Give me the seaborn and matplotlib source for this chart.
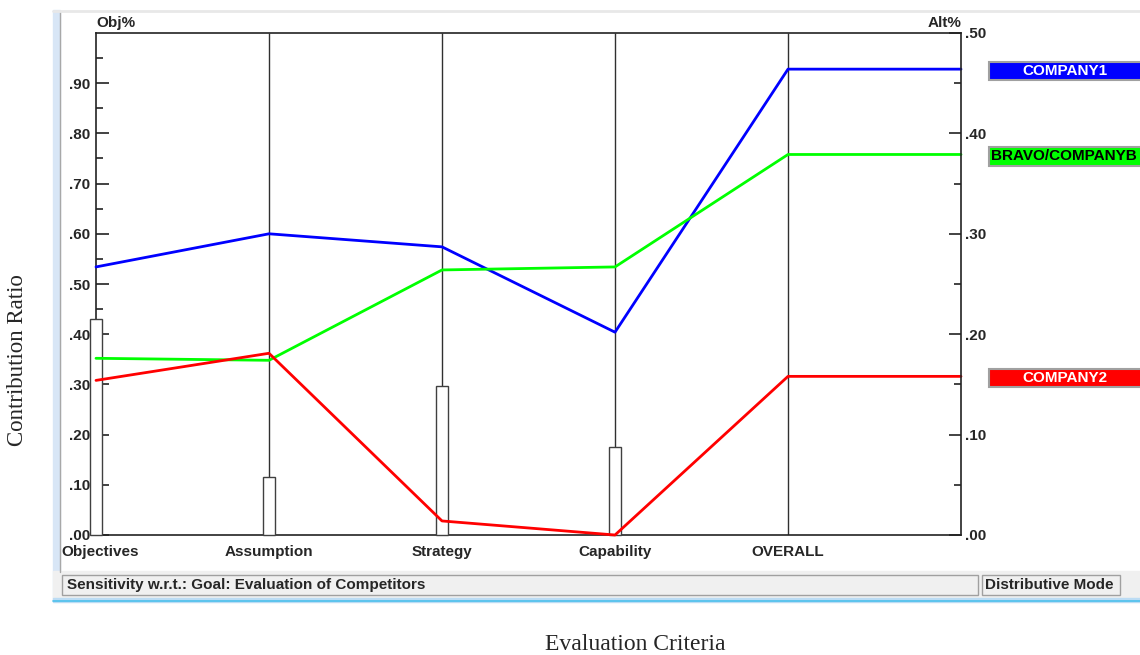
import numpy as np
import pandas as pd
import seaborn as sns
import matplotlib.pyplot as plt
from matplotlib.patches import Rectangle
from matplotlib.lines import Line2D
from matplotlib.transforms import blended_transform_factory, ScaledTranslation

# Data
criteria = ['Objectives', 'Assumption', 'Strategy', 'Capability']
weights = [0.43, 0.116, 0.297, 0.175]          # Obj% (left axis)
companies = ['COMPANY1', 'BRAVO/COMPANYB', 'COMPANY2']
company1 = [0.267, 0.300, 0.287, 0.202, 0.464]  # Alt% at each criterion + OVERALL
companyb = [0.176, 0.174, 0.264, 0.267, 0.379]
company2 = [0.154, 0.181, 0.014, 0.000, 0.158]
colors = ['#0000ff', '#00ff00', '#ff0000']
box_text = ['white', 'black', 'white']

W, H = 1140, 655
FS = 11
def fx(px):
    return px / W
def fy(py):
    return 1 - py / H

sns.set_theme(style="white")
plt.rcParams['font.family'] = ['Liberation Sans', 'DejaVu Sans']

fig = plt.figure(figsize=(W / 100, H / 100), dpi=100)

# window frame bits
fig.patches.append(Rectangle((fx(53), fy(600)), fx(7), fy(10) - fy(600),
                             transform=fig.transFigure, color='#d8e6f6', zorder=0))
fig.lines.append(Line2D([fx(60), fx(60)], [fy(12), fy(572)], transform=fig.transFigure,
                        color='#a8a8a8', lw=1))
fig.lines.append(Line2D([fx(53), 1], [fy(11), fy(11)], transform=fig.transFigure,
                        color='#e8e8e8', lw=2))

ax = fig.add_axes([fx(96), fy(535), fx(961) - fx(96), fy(33) - fy(535)])

# objective weights as thin bars
sns.barplot(x=criteria, y=weights, ax=ax, width=0.07, color='white',
            edgecolor='#404040', linewidth=1, saturation=1)
for p in ax.patches:
    p.set_clip_on(False)
    p.set_facecolor('white')
    p.set_zorder(3)

labels = criteria + ['OVERALL']
pos = np.arange(len(labels))
ax.vlines(pos[1:], weights[1:] + [0], 1, color='#303030', lw=1, zorder=1)

ax.set_xlim(0, len(labels))
ax.set_ylim(0, 1)
ax.set_xticks(pos)
ax.set_xticklabels(labels, fontweight='bold', fontsize=FS)
ax.tick_params(axis='x', length=0, pad=7)
first = ax.get_xticklabels()[0]
first.set_transform(first.get_transform() + ScaledTranslation(0.04, 0, fig.dpi_scale_trans))
ax.set_yticks(np.arange(0, 0.91, 0.1))
ax.set_yticks(np.arange(0.05, 1.0, 0.1), minor=True)
ax.set_yticklabels([f"{v:.2f}"[1:] for v in np.arange(0, 0.91, 0.1)],
                   fontweight='bold', fontsize=FS)
ax.tick_params(axis='y', which='major', direction='in', length=9, width=1.2,
               color='#222', pad=4, left=True)
ax.tick_params(axis='y', which='minor', direction='in', length=5, width=1.2,
               color='#222', left=True)
ax.set_xlabel('')
ax.set_ylabel('')

# alternatives lines on the right axis
ax2 = ax.twinx()
rows = []
for name, vals in zip(companies, [company1, companyb, company2]):
    ext = vals + [vals[-1]]
    for i, v in enumerate(ext):
        rows.append({'company': name, 'pos': i, 'share': v})
df = pd.DataFrame(rows)
sns.lineplot(data=df, x='pos', y='share', hue='company', palette=colors,
             hue_order=companies, ax=ax2, legend=False, lw=2, clip_on=False)
ax2.set_xlim(0, len(labels))
ax2.set_ylim(0, 0.5)
ax2.set_yticks(np.arange(0, 0.51, 0.1))
ax2.set_yticks(np.arange(0.05, 0.5, 0.1), minor=True)
ax2.set_yticklabels([f"{v:.2f}"[1:] for v in np.arange(0, 0.51, 0.1)],
                    fontweight='bold', fontsize=FS)
ax2.tick_params(axis='y', which='major', direction='in', length=9, width=1.2,
                color='#222', pad=3, right=True)
ax2.tick_params(axis='y', which='minor', direction='in', length=5, width=1.2,
                color='#222', right=True)
ax2.set_xlabel('')
ax2.set_ylabel('')

for a in (ax, ax2):
    for s in a.spines.values():
        s.set_color('#222')
        s.set_linewidth(1.2)
ax2.spines['left'].set_visible(False)
ax2.spines['top'].set_visible(False)
ax2.spines['bottom'].set_visible(False)
ax.spines['right'].set_visible(False)

ax.text(0, 1.006, 'Obj%', transform=ax.transAxes, ha='left', va='bottom',
        fontweight='bold', fontsize=FS)
ax.text(1, 1.006, 'Alt%', transform=ax.transAxes, ha='right', va='bottom',
        fontweight='bold', fontsize=FS)

# coloured name boxes at the right
tr = blended_transform_factory(fig.transFigure, ax2.transData)
for name, vals, c, tc in zip(companies, [company1, companyb, company2], colors, box_text):
    v = vals[-1]
    fig.patches.append(Rectangle((fx(989), v - 0.011), 0.2, 0.018, transform=tr,
                                 facecolor=c, edgecolor='#a0a0a0', lw=1.5, clip_on=False))
    if name == 'BRAVO/COMPANYB':
        fig.text(fx(991), v - 0.002, name, transform=tr, ha='left', va='center',
                 color=tc, fontweight='bold', fontsize=FS)
    else:
        fig.text(fx(1065), v - 0.002, name, transform=tr, ha='center', va='center',
                 color=tc, fontweight='bold', fontsize=FS)

# status bar
fig.patches.append(Rectangle((fx(53), fy(598)), 1, fy(571) - fy(598),
                             transform=fig.transFigure, color='#f0f0f0', zorder=0))
fig.patches.append(Rectangle((fx(62), fy(595)), fx(978) - fx(62), fy(575) - fy(595),
                             transform=fig.transFigure, facecolor='#f0f0f0',
                             edgecolor='#a0a0a0', lw=1))
fig.patches.append(Rectangle((fx(982), fy(595)), fx(1120) - fx(982), fy(575) - fy(595),
                             transform=fig.transFigure, facecolor='#f0f0f0',
                             edgecolor='#a0a0a0', lw=1))
fig.text(fx(67), fy(585), 'Sensitivity w.r.t.: Goal: Evaluation of Competitors',
         ha='left', va='center', fontweight='bold', fontsize=FS)
fig.text(fx(985), fy(585), 'Distributive Mode', ha='left', va='center',
         fontweight='bold', fontsize=FS)
fig.patches.append(Rectangle((fx(53), fy(602)), 1, fy(598) - fy(602),
                             transform=fig.transFigure, color='#bcdcf4', zorder=0))
fig.lines.append(Line2D([fx(53), 1], [fy(601), fy(601)], transform=fig.transFigure,
                        color='#4cc0ec', lw=1.2))

# outer axis titles
fig.text(fx(18), fy(360), 'Contribution Ratio', rotation=90, ha='center', va='center',
         family='Liberation Serif', fontsize=16.5)
fig.text(fx(635), fy(645), 'Evaluation Criteria', ha='center', va='center',
         family='Liberation Serif', fontsize=17)

fig.savefig('out.png', dpi=100)
